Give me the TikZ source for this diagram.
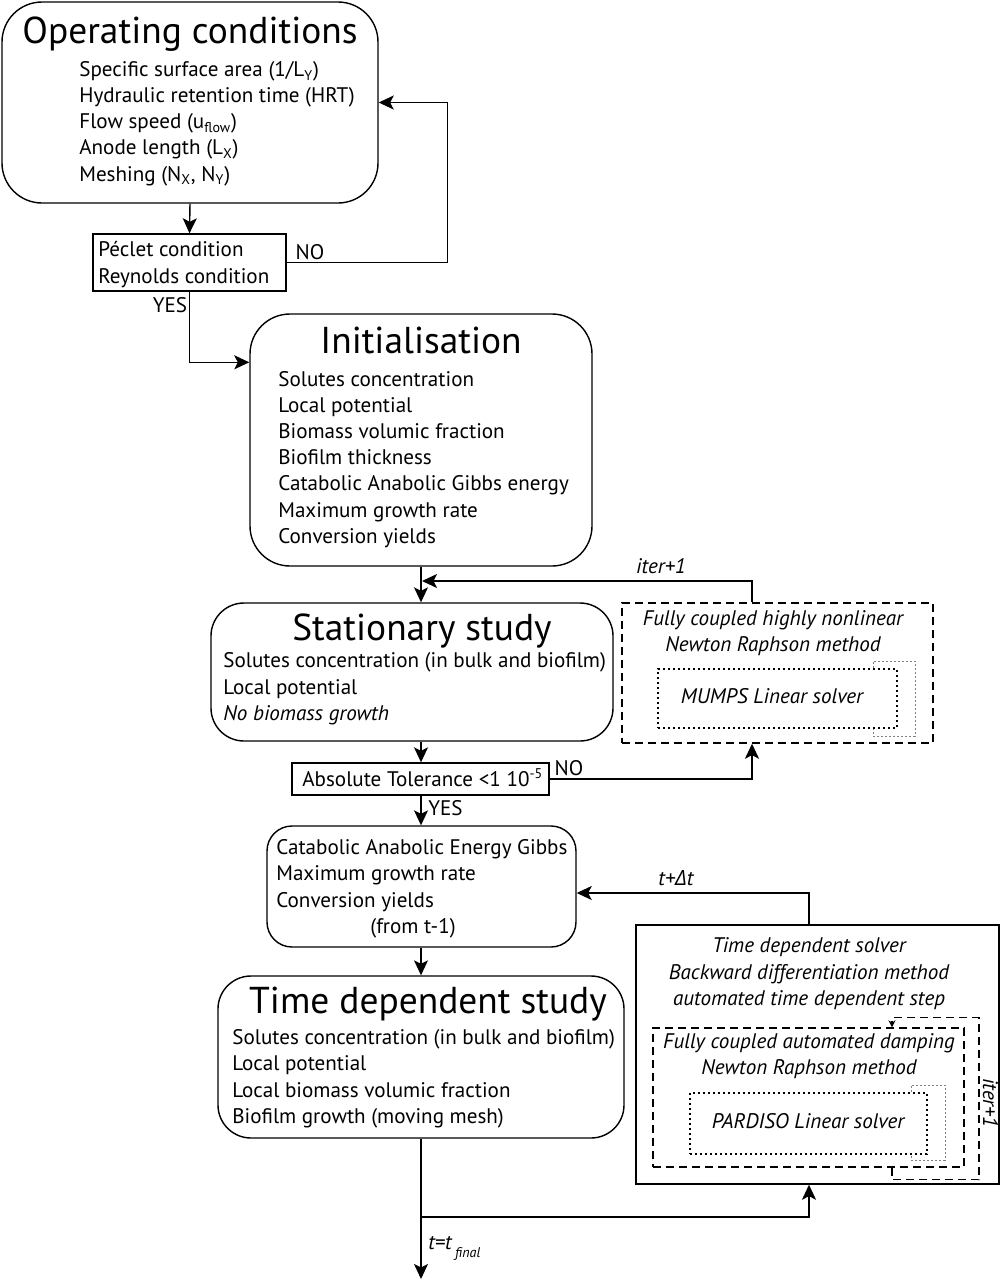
\documentclass[tikz,border=0pt]{standalone}
\usepackage{fontspec}
\setmainfont{PT Sans}
\newfontfamily\grkfont{Open Sans}
\usepackage{tikz}
\usetikzlibrary{arrows.meta,positioning,fit}

\begin{document}
\begin{tikzpicture}[x=0.2mm,y=-0.2mm, every node/.style={font=\fontsize{12}{14.8}\selectfont},
  blk/.style={draw,rounded corners=#1,line width=0.8pt,inner sep=0pt},
  blk/.default=7mm,
  cond/.style={draw,line width=0.8pt,inner sep=0pt},
  solv/.style={draw,dash pattern=on 1.6mm off 1mm,line width=0.8pt,inner sep=0pt},
  lin/.style={draw,dash pattern=on 0.4mm off 0.6mm,line width=0.8pt,inner sep=0pt},
  glp/.style={draw=gray,dash pattern=on 0.4mm off 0.4mm,line width=0.5pt},
  ttl/.style={anchor=base,inner sep=0pt,font=\fontsize{21.3}{25}\selectfont},
  txt/.style={anchor=base west,align=left,inner sep=0pt},
  itx/.style={anchor=base,align=center,inner sep=0pt,font=\fontsize{12}{14.8}\selectfont\itshape},
  lbl/.style={anchor=base,inner sep=0pt},
  arr/.style={-{Stealth[length=3mm,width=2.8mm,inset=0.7mm]},line width=0.8pt}]
  \useasboundingbox (0,0) rectangle (1001,1280);
  % helper columns and rows
  \coordinate (sp) at (421,0);
  \coordinate (c5) at (752,0);
  \coordinate (c6) at (809,0);
  \coordinate (c7) at (0,893);
  \coordinate (c3) at (892,0);
  \coordinate (g1) at (873,0);
  \coordinate (g2) at (911,0);
  \coordinate (it1) at (422,581);
  \coordinate (br) at (421,1217);
  \coordinate (fin) at (421,1279);

  % boxes
  \node[blk=8mm,fit={(2,2)(378,203)}] (opc) {};
  \node[cond,fit={(93,234)(286,291)}] (pec) {};
  \node[blk=8mm,fit={(250,314)(592,566)}] (ini) {};
  \node[blk=6.6mm,fit={(211,603)(613,741)}] (sta) {};
  \node[solv,fit={(622,603)(933,743)}] (nr1) {};
  \node[lin,fit={(658,669)(897,728)}] (ls1) {};
  \node[cond,fit={(292,763)(549,795)}] (tol) {};
  \node[blk=5mm,fit={(267,826)(576,947)}] (cat) {};
  \node[blk=6.6mm,fit={(218,976)(624,1138)}] (tds) {};
  \node[cond,fit={(636,925)(999,1184)}] (tsol) {};
  \node[solv,fit={(653,1028)(964,1167)}] (nr2) {};
  \node[lin,fit={(690,1093)(927,1154)}] (ls2) {};

  % texts (multi-line nodes sit on their last baseline)
  \node[ttl] (opct) at (190,43) {Operating conditions};
  \node[txt] (opcb) at (79,181) {Specific surface area (1/L\textsubscript{Y})\\Hydraulic retention time (HRT)\\Flow speed (u\textsubscript{flow})\\Anode length (L\textsubscript{X})\\Meshing (N\textsubscript{X}, N\textsubscript{Y})};
  \node[txt] (pecb) at (98,283) {Péclet condition\\Reynolds condition};
  \node[ttl] (init) at (421,353) {Initialisation};
  \node[txt] (inib) at (278,543) {Solutes concentration\\Local potential\\Biomass volumic fraction\\Biofilm thickness\\Catabolic Anabolic Gibbs energy\\Maximum growth rate\\Conversion yields};
  \node[ttl] (stat) at (422,640) {Stationary study};
  \node[txt] (stab) at (223,720) {Solutes concentration (in bulk and biofilm)\\Local potential\\\textit{No biomass growth}};
  \node[itx] (nr1t) at (773,651) {Fully coupled highly nonlinear\\Newton Raphson method};
  \node[itx] (ls1t) at (772,703) {MUMPS Linear solver};
  \node[txt] (tolt) at (302,786) {Absolute Tolerance <1 10\textsuperscript{-5}};
  \node[txt] (catb) at (276,933) {Catabolic Anabolic Energy Gibbs\\Maximum growth rate\\Conversion yields\\\hspace*{18.8mm}(from t-1)};
  \node[ttl] (tdst) at (428,1013) {Time dependent study};
  \node[txt] (tdsb) at (232,1123) {Solutes concentration (in bulk and biofilm)\\Local potential\\Local biomass volumic fraction\\Biofilm growth (moving mesh)};
  \node[itx] (tsolt) at (809,1005) {Time dependent solver\\Backward differentiation method\\automated time dependent step};
  \node[itx] (nr2t) at (809,1074) {Fully coupled automated damping\\Newton Raphson method};
  \node[itx] (ls2t) at (808,1128) {PARDISO Linear solver};

  % labels
  \node[lbl] (no1) at (310,259) {NO};
  \node[lbl] (yes1) at (170,312) {YES};
  \node[lbl] (no2) at (569,775) {NO};
  \node[lbl,anchor=base west] (yes2) at (428,815) {YES};
  \node[lbl] (it1l) at (661,573) {\itshape iter+1};
  \node[lbl] (dtl) at (676,885) {\itshape t+{\grkfont\itshape Δ}t};
  \node[lbl,rotate=-90] (it2l) at (983,1103) {\itshape iter+1};
  \node[lbl,anchor=base west] (tfl) at (428,1249) {\itshape t=t\,\raisebox{-1.6mm}{\fontsize{8}{9}\selectfont final}};

  % connectors
  \draw[arr] (opc.south) -- (pec.north);
  \draw[arr] (pec.east) -- ++(161,0) |- (opc.east);
  \draw[arr] (pec.south) |- ([yshift=-9.8mm]ini.north west);
  \draw[arr] (ini.south) -- (sta.north -| ini.south);
  \draw[arr] (nr1.north -| c5) |- (it1);
  \draw[arr] (sta.south -| sp) -- (tol.north -| sp);
  \draw[arr] (tol.east) -| (nr1.south -| c5);
  \draw[arr] (tol.south -| sp) -- (cat.north -| sp);
  \draw[arr] (tsol.north -| c6) |- (cat.east |- c7);
  \draw[arr] (cat.south -| sp) -- (tds.north -| sp);
  \draw[arr] (tds.south -| sp) -- (fin);
  \draw[arr] (br) -| (tsol.south -| c6);
  \draw[solv,-{Stealth[length=1.4mm,width=1.4mm]}] (nr2.south -| c3) -- ++(0,12) -| ++(87,-162) -| (nr2.north -| c3);
  \draw[glp] (ls1.north -| g1) -- ++(0,-7) -| ++(42,75) -| (ls1.south -| g1);
  \draw[glp] (ls2.north -| g2) -- ++(0,-7) -| ++(34,75) -| (ls2.south -| g2);
\end{tikzpicture}
\end{document}
